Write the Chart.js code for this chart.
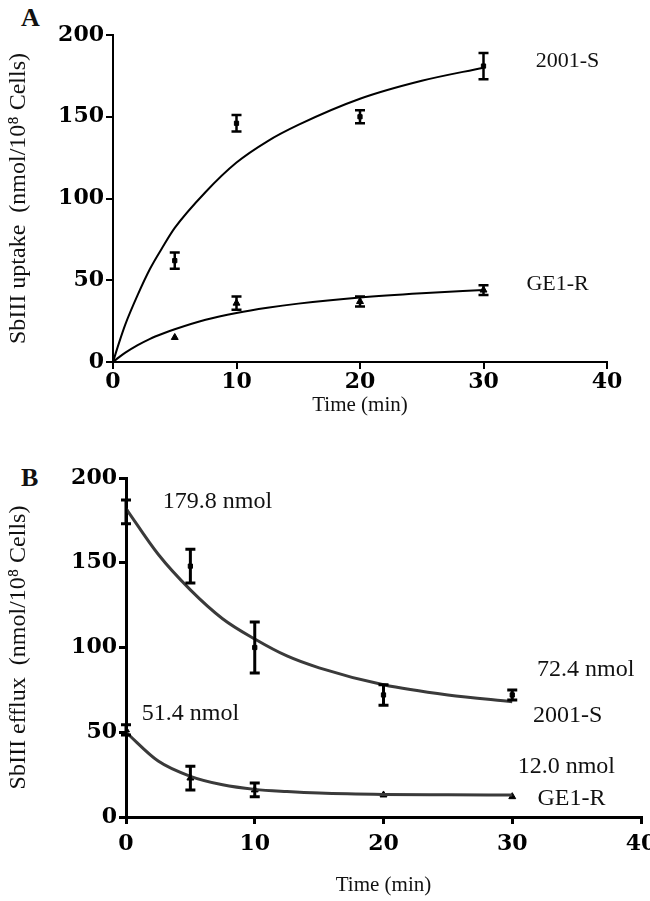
<!DOCTYPE html>
<html>
<head>
<meta charset="utf-8">
<script src="https://cdn.jsdelivr.net/npm/chart.js@4"></script>
<style>
  html, body { margin: 0; padding: 0; background: #fff; }
  body { width: 650px; height: 901px; position: relative; overflow: hidden; font-family: "Liberation Serif", serif; }
  canvas { position: absolute; left: 0; }
  #cA { top: 0; }
  #cB { top: 440px; }
  .panel { position: absolute; font-family: "Liberation Serif", serif; font-size: 26px; font-weight: bold; color: #111; }
</style>
</head>
<body>
<div class="panel" style="left:21px; top:3px;">A</div>
<div class="panel" style="left:21px; top:463px;">B</div>
<canvas id="cA" width="650" height="420"></canvas>
<canvas id="cB" width="650" height="460"></canvas>
<script>
// ---------- Panel A: uptake ----------
const timeA = [0, 5, 10, 20, 30];
const uptakeS = [0, 62, 146, 150, 181];
const uptakeSErr = [0, 5, 5, 4, 8];
const uptakeR = [0, 15, 36, 37, 44];
const uptakeRErr = [0, 0, 4, 3, 3];
const fitTimeA = [0, 0.5, 1, 2, 3, 4, 5, 7.5, 10, 12.5, 15, 20, 25, 30];
const fitUptakeS = [0, 12, 23, 41, 57, 70, 82, 104, 122, 135, 145, 161, 172, 180];
const fitUptakeR = [0, 3, 5.7, 10.3, 14.2, 17.3, 20, 25.8, 30, 33.2, 35.7, 39.4, 42, 44];

// ---------- Panel B: efflux ----------
const timeB = [0, 5, 10, 20, 30];
const effluxS = [180, 148, 100, 72, 72];
const effluxSErr = [7, 10, 15, 6, 3];
const effluxR = [51.4, 23, 16, 13, 12];
const effluxRErr = [3, 7, 4, 0, 0];
const fitTimeB = [0, 2.5, 5, 7.5, 10, 12.5, 15, 20, 25, 30];
const fitEffluxS = [182, 155, 134, 117, 105, 95, 88, 78, 72, 68];
const fitEffluxR = [50, 33, 24, 19, 16.3, 15, 14.1, 13.3, 13.1, 13];

const xTicks = [0, 10, 20, 30, 40];
const yTicks = [0, 50, 100, 150, 200];

const labelsA = [
  { text: "2001-S", x: 36.8, y: 184 },
  { text: "GE1-R", x: 36.0, y: 47.5 }
];
const labelsB = [
  { text: "179.8 nmol", x: 7.1, y: 186 },
  { text: "72.4 nmol", x: 35.7, y: 87 },
  { text: "2001-S", x: 34.3, y: 59.5 },
  { text: "51.4 nmol", x: 5.0, y: 61 },
  { text: "12.0 nmol", x: 34.2, y: 29.5 },
  { text: "GE1-R", x: 34.6, y: 10.5 }
];

const pts = (xs, ys) => xs.map((x, i) => ({ x: x, y: ys[i] }));

const errorBarPlugin = {
  id: 'errorBars',
  afterDatasetsDraw(chart, args, opts) {
    const ctx = chart.ctx;
    const xs = chart.scales.x, ys = chart.scales.y;
    ctx.save();
    chart.data.datasets.forEach(ds => {
      if (!ds.errors) return;
      ctx.strokeStyle = opts.color || '#000';
      ctx.lineWidth = opts.width || 2.5;
      ds.data.forEach((p, i) => {
        const e = ds.errors[i];
        if (!e) return;
        const px = xs.getPixelForValue(p.x);
        const top = ys.getPixelForValue(p.y + e);
        const bot = ys.getPixelForValue(p.y - e);
        const cap = opts.cap || 5;
        ctx.beginPath();
        ctx.moveTo(px, top); ctx.lineTo(px, bot);
        ctx.moveTo(px - cap, top); ctx.lineTo(px + cap, top);
        ctx.moveTo(px - cap, bot); ctx.lineTo(px + cap, bot);
        ctx.stroke();
      });
    });
    ctx.restore();
  }
};

const textPlugin = {
  id: 'textLabels',
  afterDraw(chart, args, opts) {
    const ctx = chart.ctx;
    ctx.save();
    ctx.font = opts.font;
    ctx.fillStyle = '#111';
    ctx.textAlign = 'center';
    ctx.textBaseline = 'middle';
    (opts.items || []).forEach(it => {
      ctx.fillText(it.text, chart.scales.x.getPixelForValue(it.x), chart.scales.y.getPixelForValue(it.y));
    });
    ctx.restore();
  }
};

const tickFont = { family: '"DejaVu Serif"', size: 22, weight: 'bold' };

function makeChart(id, cfg) {
  return new Chart(document.getElementById(id), {
    type: 'scatter',
    data: { datasets: cfg.datasets },
    options: {
      responsive: false,
      animation: false,
      devicePixelRatio: 1,
      layout: { padding: { top: cfg.padTop, right: cfg.padRight, left: 0, bottom: 0 } },
      plugins: {
        legend: { display: false },
        tooltip: { enabled: false },
        errorBars: { width: cfg.errWidth, cap: 5, color: '#000' },
        textLabels: { items: cfg.labels, font: cfg.labelFont }
      },
      scales: {
        x: {
          type: 'linear', min: 0, max: 40,
          afterBuildTicks: s => { s.ticks = xTicks.map(v => ({ value: v })); },
          afterFit: s => { s.height = cfg.xHeight; s.paddingLeft = 0; s.paddingRight = 0; },
          ticks: { color: '#000', font: tickFont, padding: cfg.xTickPad, maxRotation: 0 },
          grid: { display: true, drawOnChartArea: false, drawTicks: true, tickLength: 7, color: '#000', lineWidth: cfg.axisWidth },
          border: { display: true, color: '#000', width: cfg.axisWidth },
          title: { display: true, text: 'Time (min)', color: '#111', font: { family: '"Liberation Serif"', size: 21 }, padding: { top: 0, bottom: cfg.xTitlePad } }
        },
        y: {
          type: 'linear', min: 0, max: 200,
          afterBuildTicks: s => { s.ticks = yTicks.map(v => ({ value: v })); },
          afterFit: s => { s.width = cfg.yWidth; s.paddingTop = 0; s.paddingBottom = 0; },
          ticks: { color: '#000', font: tickFont, padding: 2 },
          grid: { display: true, drawOnChartArea: false, drawTicks: true, tickLength: 7, color: '#000', lineWidth: cfg.axisWidth },
          border: { display: true, color: '#000', width: cfg.axisWidth },
          title: { display: true, text: cfg.yTitle, color: '#111', font: { family: '"Liberation Serif"', size: 24 }, padding: { top: 4, bottom: 0 } }
        }
      }
    },
    plugins: [errorBarPlugin, textPlugin]
  });
}

makeChart('cA', {
  padTop: 35, padRight: 43, xHeight: 58, yWidth: 113, axisWidth: 2, errWidth: 2.5, xTitlePad: 2, xTickPad: 0,
  labelFont: '22px "Liberation Serif"',
  yTitle: 'SbIII uptake  (nmol/10\u2078 Cells)',
  labels: labelsA,
  datasets: [
    { label: '2001-S fit', data: pts(fitTimeA, fitUptakeS), showLine: true, borderColor: '#000', borderWidth: 2, pointRadius: 0, cubicInterpolationMode: 'monotone' },
    { label: 'GE1-R fit', data: pts(fitTimeA, fitUptakeR), showLine: true, borderColor: '#000', borderWidth: 2, pointRadius: 0, cubicInterpolationMode: 'monotone' },
    { label: '2001-S', data: pts(timeA, uptakeS), errors: uptakeSErr, pointStyle: 'rect', pointRadius: 3, backgroundColor: '#000', borderColor: '#000' },
    { label: 'GE1-R', data: pts(timeA, uptakeR), errors: uptakeRErr, pointStyle: 'triangle', pointRadius: 4, backgroundColor: '#000', borderColor: '#000' }
  ]
});

makeChart('cB', {
  padTop: 38, padRight: 9, xHeight: 83, yWidth: 126, axisWidth: 3, errWidth: 3, xTitlePad: 2, xTickPad: 7,
  labelFont: '24px "Liberation Serif"',
  yTitle: 'SbIII efflux  (nmol/10\u2078 Cells)',
  labels: labelsB,
  datasets: [
    { label: '2001-S fit', data: pts(fitTimeB, fitEffluxS), showLine: true, borderColor: '#3a3a3a', borderWidth: 3, pointRadius: 0, cubicInterpolationMode: 'monotone' },
    { label: 'GE1-R fit', data: pts(fitTimeB, fitEffluxR), showLine: true, borderColor: '#3a3a3a', borderWidth: 3, pointRadius: 0, cubicInterpolationMode: 'monotone' },
    { label: '2001-S', data: pts(timeB, effluxS), errors: effluxSErr, pointStyle: 'rect', pointRadius: 3, backgroundColor: '#000', borderColor: '#000' },
    { label: 'GE1-R', data: pts(timeB, effluxR), errors: effluxRErr, pointStyle: 'triangle', pointRadius: 4, backgroundColor: '#000', borderColor: '#000' }
  ]
});
</script>
</body>
</html>
